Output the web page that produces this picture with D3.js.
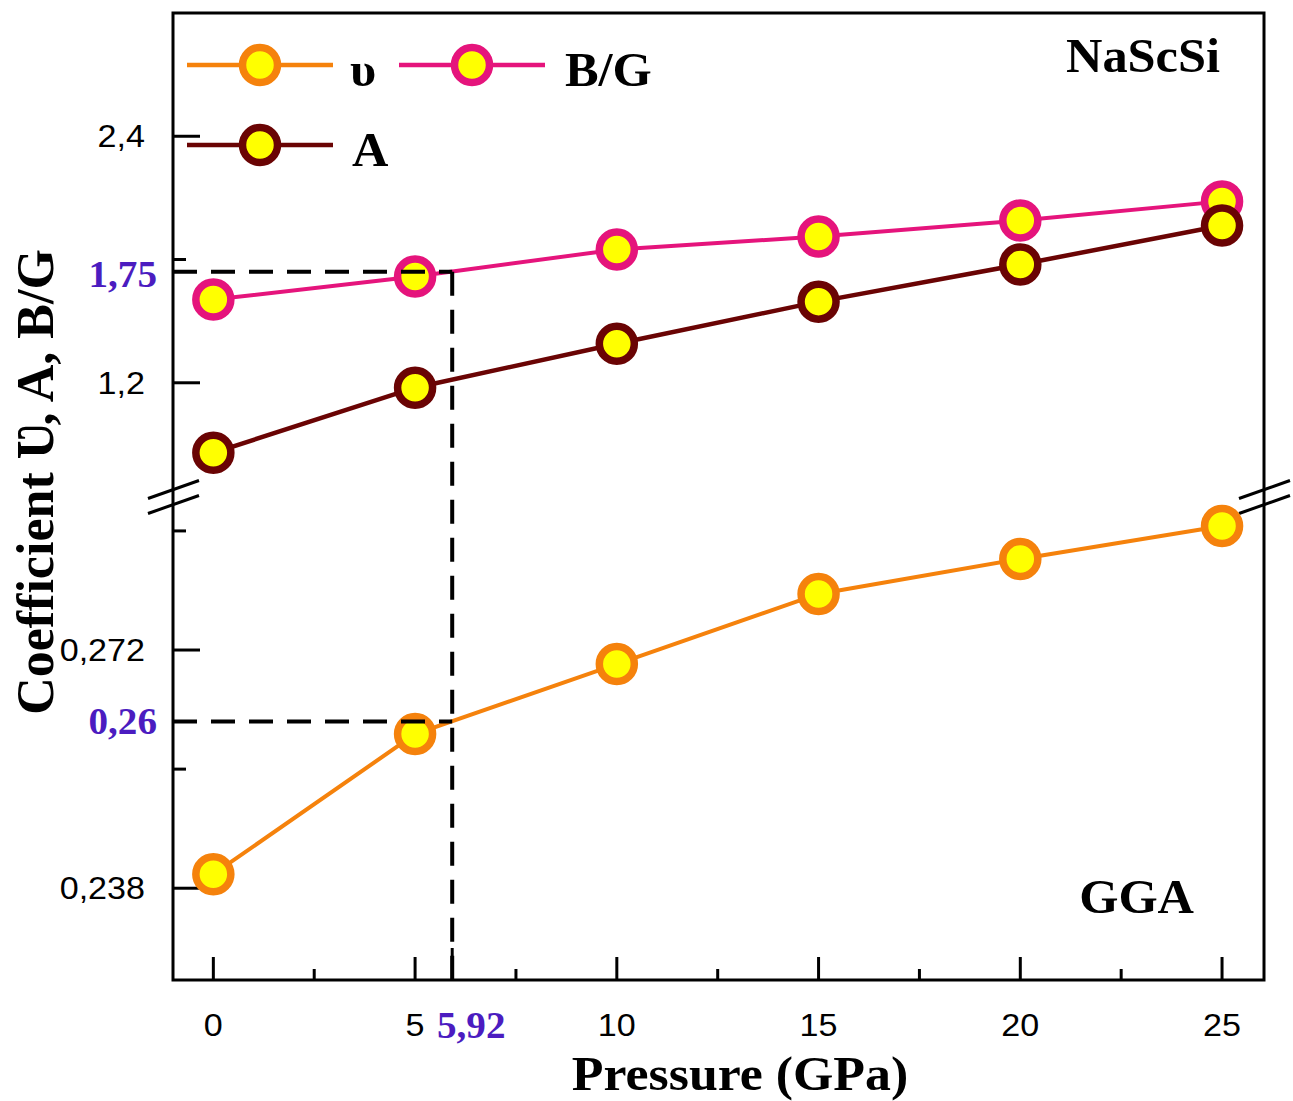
<!DOCTYPE html>
<html>
<head>
<meta charset="utf-8">
<script src="https://cdn.jsdelivr.net/npm/d3@7"></script>
<style>
  body { margin: 0; background: #fff; }
  svg { display: block; }
</style>
</head>
<body>
<div id="chart"></div>
<script>
// data
const pressure = [0, 5, 10, 15, 20, 25];
const nu = [0.240, 0.260, 0.270, 0.280, 0.285, 0.2897];
const bg = [1.605, 1.717, 1.849, 1.912, 1.990, 2.083];
const anis = [0.859, 1.176, 1.390, 1.595, 1.776, 1.966];

const xTicks = [0, 5, 10, 15, 20, 25];
const xMinor = [2.5, 7.5, 12.5, 17.5, 22.5];
const upTicks = [1.2, 2.4];
const upMinor = [1.8];
const lowTicks = [0.238, 0.272];
const lowMinor = [0.255, 0.289];

// crossing point marked by the dashed lines
const markP = 5.92;
const markBG = 1.74;
const markNu = 0.2618;

const width = 1293, height = 1101;
const plotL = 173, plotR = 1264, plotT = 13, plotB = 980;
const breakTop = 497, breakBottom = 505;

const orange = "#f5820c", pink = "#e5147c", maroon = "#6a0404", yellow = "#ffff00";
const purple = "#4b1cc0";

const svg = d3.select("#chart").append("svg")
    .attr("width", width)
    .attr("height", height);

const x = d3.scaleLinear().domain([-1, 26.04]).range([plotL, plotR]);
const yUp = d3.scaleLinear().domain([0.644, 3.0]).range([breakTop, plotT]);
const yLow = d3.scaleLinear().domain([0.2249, 0.2927]).range([plotB, breakBottom]);

const tickFont = "'Liberation Sans', Arial, sans-serif";
const serif = "'Liberation Serif', 'Times New Roman', serif";

// stretched text helper (the figure's text is a bit wide)
function label(g, txt, tx, ty, opts) {
    return g.append("text")
        .attr("transform", `translate(${tx},${ty}) scale(${opts.sx || 1},1)`)
        .attr("text-anchor", opts.anchor || "start")
        .attr("font-family", opts.font || serif)
        .attr("font-weight", opts.weight || "normal")
        .attr("font-size", opts.size)
        .attr("fill", opts.fill || "#000")
        .text(txt);
}

// frame
svg.append("rect")
    .attr("x", plotL).attr("y", plotT)
    .attr("width", plotR - plotL).attr("height", plotB - plotT)
    .attr("fill", "none").attr("stroke", "#000").attr("stroke-width", 3);

// x ticks (inward)
const gx = svg.append("g").attr("stroke", "#000").attr("stroke-width", 3);
gx.selectAll(".maj").data(xTicks).enter().append("line")
    .attr("x1", d => x(d)).attr("x2", d => x(d))
    .attr("y1", plotB).attr("y2", plotB - 23);
gx.selectAll(".min").data(xMinor).enter().append("line")
    .attr("x1", d => x(d)).attr("x2", d => x(d))
    .attr("y1", plotB).attr("y2", plotB - 11);
gx.append("line")
    .attr("x1", x(markP)).attr("x2", x(markP))
    .attr("y1", plotB).attr("y2", plotB - 32);

xTicks.forEach(d => label(svg, d, x(d), 1036, {anchor: "middle", font: tickFont, size: 31, sx: 1.1}));
label(svg, "5,92", 437, 1038, {weight: "bold", size: 38, fill: purple, sx: 1.03});

// y ticks (inward), both sections
const gy = svg.append("g").attr("stroke", "#000").attr("stroke-width", 3);
gy.selectAll(".up").data(upTicks).enter().append("line")
    .attr("x1", plotL).attr("x2", plotL + 27)
    .attr("y1", d => yUp(d)).attr("y2", d => yUp(d));
gy.selectAll(".upm").data(upMinor).enter().append("line")
    .attr("x1", plotL).attr("x2", plotL + 13)
    .attr("y1", d => yUp(d)).attr("y2", d => yUp(d));
gy.selectAll(".low").data(lowTicks).enter().append("line")
    .attr("x1", plotL).attr("x2", plotL + 27)
    .attr("y1", d => yLow(d)).attr("y2", d => yLow(d));
gy.selectAll(".lowm").data(lowMinor).enter().append("line")
    .attr("x1", plotL).attr("x2", plotL + 13)
    .attr("y1", d => yLow(d)).attr("y2", d => yLow(d));

const fmt = d => String(d).replace(".", ",");
upTicks.forEach(d => label(svg, fmt(d), 145, yUp(d) + 11, {anchor: "end", font: tickFont, size: 31, sx: 1.1}));
lowTicks.forEach(d => label(svg, fmt(d), 145, yLow(d) + 11, {anchor: "end", font: tickFont, size: 31, sx: 1.1}));
label(svg, "1,75", 157, yUp(markBG) + 15, {anchor: "end", weight: "bold", size: 38, fill: purple, sx: 1.03});
label(svg, "0,26", 157, yLow(markNu) + 13, {anchor: "end", weight: "bold", size: 38, fill: purple, sx: 1.03});

// axis break marks
const breakY = (breakTop + breakBottom) / 2 - 4;
[plotL, plotR].forEach(ax => {
    [-7.5, 7.5].forEach(off => {
        svg.append("line")
            .attr("x1", ax - 25).attr("y1", breakY + off + 9)
            .attr("x2", ax + 26).attr("y2", breakY + off - 9)
            .attr("stroke", "#000").attr("stroke-width", 3);
    });
});

// series
const series = [
    {name: "nu", vals: nu, y: yLow, color: orange, w: 4},
    {name: "bg", vals: bg, y: yUp, color: pink, w: 4},
    {name: "A", vals: anis, y: yUp, color: maroon, w: 4.5}
];

series.forEach(s => {
    const pts = pressure.map((p, i) => [p, s.vals[i]]);
    const line = d3.line().x(d => x(d[0])).y(d => s.y(d[1]));
    svg.append("path")
        .datum(pts)
        .attr("fill", "none")
        .attr("stroke", s.color)
        .attr("stroke-width", s.w)
        .attr("d", line);
    svg.selectAll(".m-" + s.name)
        .data(pts).enter().append("circle")
        .attr("cx", d => x(d[0]))
        .attr("cy", d => s.y(d[1]))
        .attr("r", 17.5)
        .attr("fill", yellow)
        .attr("stroke", s.color)
        .attr("stroke-width", 7.5);
});

// dashed guide lines
const dash = svg.append("g")
    .attr("stroke", "#000").attr("stroke-width", 4)
    .attr("stroke-dasharray", "24,14").attr("fill", "none");
dash.append("line")
    .attr("x1", plotL).attr("x2", x(markP))
    .attr("y1", yUp(markBG)).attr("y2", yUp(markBG));
dash.append("line")
    .attr("x1", plotL).attr("x2", x(markP))
    .attr("y1", yLow(markNu)).attr("y2", yLow(markNu));
dash.append("line")
    .attr("x1", x(markP)).attr("x2", x(markP))
    .attr("y1", yUp(markBG)).attr("y2", plotB);

// legend
const legend = [
    {txt: "υ", color: orange, x0: 187, y0: 65, tx: 350},
    {txt: "B/G", color: pink, x0: 399, y0: 65, tx: 565},
    {txt: "A", color: maroon, x0: 187, y0: 145, tx: 352}
];
legend.forEach(l => {
    svg.append("line")
        .attr("x1", l.x0).attr("x2", l.x0 + 146)
        .attr("y1", l.y0).attr("y2", l.y0)
        .attr("stroke", l.color).attr("stroke-width", 4.5);
    svg.append("circle")
        .attr("cx", l.x0 + 73).attr("cy", l.y0).attr("r", 17.5)
        .attr("fill", yellow).attr("stroke", l.color).attr("stroke-width", 7.5);
    label(svg, l.txt, l.tx, l.y0 + 21, {weight: "bold", size: 48, sx: 1.05});
});

// annotations
label(svg, "NaScSi", 1220, 72, {anchor: "end", weight: "bold", size: 48, sx: 1.05});
label(svg, "GGA", 1194, 913, {anchor: "end", weight: "bold", size: 48, sx: 1.05});

// axis titles
label(svg, "Pressure (GPa)", 740, 1090, {anchor: "middle", weight: "bold", size: 48, sx: 1.08});
svg.append("text")
    .attr("transform", "translate(53,482) rotate(-90)")
    .attr("text-anchor", "middle")
    .attr("font-family", serif)
    .attr("font-weight", "bold")
    .attr("font-size", 52)
    .text("Coefficient Ʋ, A, B/G");
</script>
</body>
</html>
